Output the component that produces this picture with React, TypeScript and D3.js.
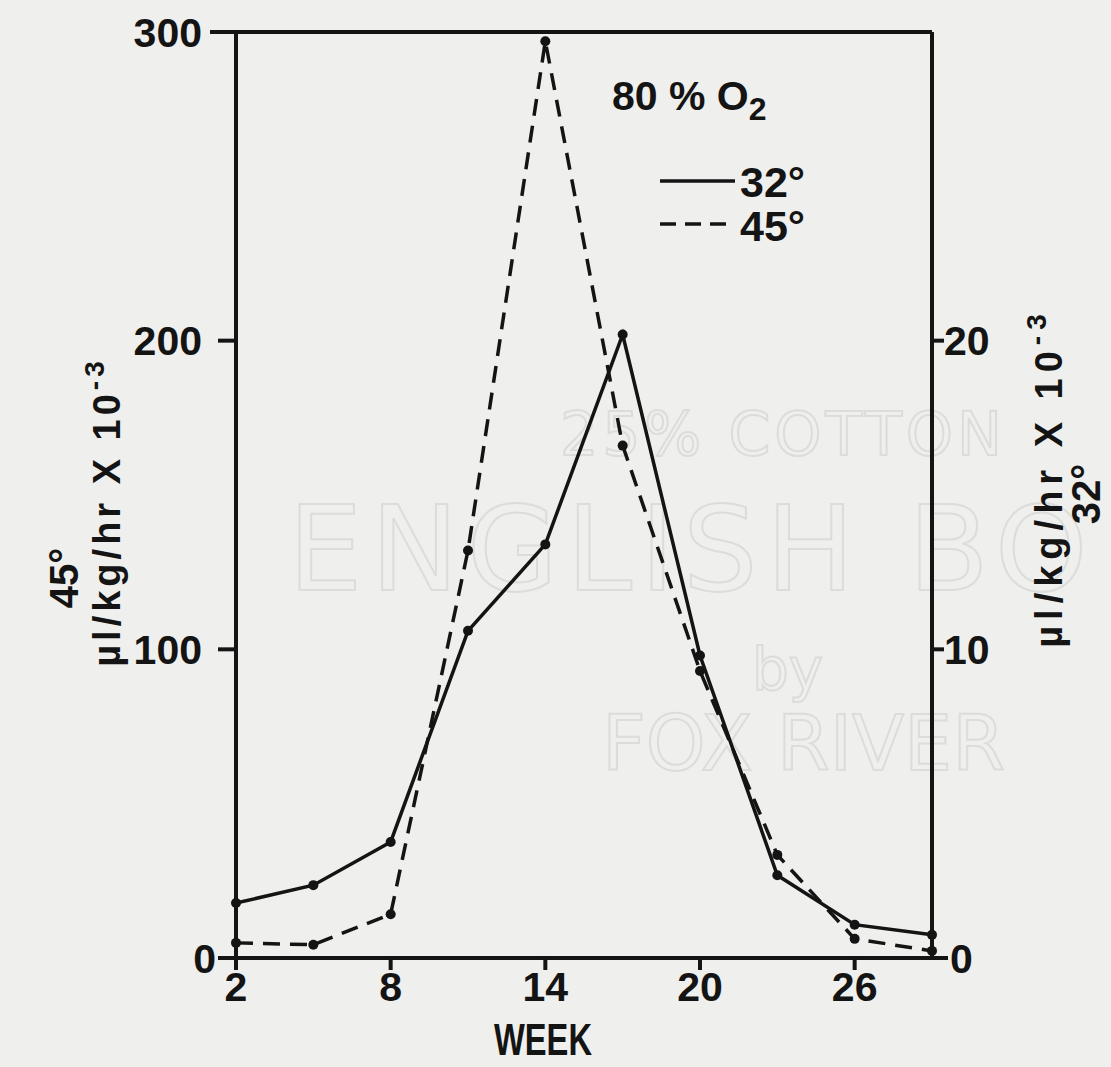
import React from 'react';
import {scaleLinear, line} from 'd3';

const weeks=[2,5,8,11,14,17,20,23,26,29];
// 45° series, left axis (µl/kg/hr x 10^-3)
const warm=[4.9,4.3,14.2,132,297,166,93,33.4,6.2,2.3];
// 32° series, right axis
const cold=[1.78,2.36,3.76,10.6,13.4,20.2,9.8,2.68,1.08,0.75];

const xTicks=[2,8,14,20,26];
const leftTicks=[0,100,200,300];
const rightTicks=[0,10,20];

const font="Liberation Sans, Arial, sans-serif";
const ink="#141414";

export default function App(){
  const width=1111, height=1067;
  const x0=236, x1=932, yTop=32, yBot=958;

  const xScale=scaleLinear().domain([2,29]).range([x0,x1]);
  const yLeft=scaleLinear().domain([0,300]).range([yBot,yTop]);
  const yRight=scaleLinear().domain([0,30]).range([yBot,yTop]);

  const warmPts=weeks.map((w,i)=>[xScale(w),yLeft(warm[i])] as [number,number]);
  const coldPts=weeks.map((w,i)=>[xScale(w),yRight(cold[i])] as [number,number]);
  const path=line();

  const wm={fill:"none",stroke:"#dcdcdb",strokeWidth:2,fontFamily:"DejaVu Sans, sans-serif"};

  return (
    <svg width={width} height={height} style={{display:"block",position:"absolute",left:0,top:0,background:"#efefed"}}>
      {/* faint paper watermark */}
      <g style={wm as any}>
        <text x={560} y={455} fontSize={60} letterSpacing={4}>25% COTTON</text>
        <text x={288} y={590} fontSize={118} letterSpacing={8}>ENGLISH BO</text>
        <text x={752} y={690} fontSize={58}>by</text>
        <text x={602} y={770} fontSize={76}>FOX RIVER</text>
      </g>

      {/* frame */}
      <g stroke={ink} strokeWidth={4} fill="none">
        <line x1={x0} x2={x0} y1={yTop} y2={yBot}/>
        <line x1={x1} x2={x1} y1={yTop} y2={yBot}/>
        <line x1={210} x2={x1} y1={yTop} y2={yTop}/>
        <line x1={218} x2={948} y1={yBot} y2={yBot}/>
        {leftTicks.slice(1,3).map(t=>(
          <line key={t} x1={x0-18} x2={x0} y1={yLeft(t)} y2={yLeft(t)}/>
        ))}
        {rightTicks.slice(1).map(t=>(
          <line key={t} x1={x1} x2={x1+12} y1={yRight(t)} y2={yRight(t)}/>
        ))}
        {xTicks.map(t=>(
          <line key={t} x1={xScale(t)} x2={xScale(t)} y1={yBot} y2={yBot+12}/>
        ))}
      </g>

      {/* tick labels */}
      <g fontFamily={font} fontWeight="bold" fontSize={41} fill={ink}>
        {leftTicks.map(t=>(
          <text key={t} x={t===0?216:202} y={yLeft(t)} dy="0.36em" textAnchor="end">{t}</text>
        ))}
        {rightTicks.map(t=>(
          <text key={t} x={t===0?950:944} y={yRight(t)} dy="0.36em" textAnchor="start">{t}</text>
        ))}
        {xTicks.map(t=>(
          <text key={t} x={xScale(t)} y={1001} textAnchor="middle">{t}</text>
        ))}
        <text x={543} y={1055} textAnchor="middle" fontSize={44} textLength={98} lengthAdjust="spacingAndGlyphs">WEEK</text>
      </g>

      {/* axis titles */}
      <g fontFamily={font} fontWeight="bold" fill={ink}>
        <text transform="translate(78,578) rotate(-90)" textAnchor="middle" fontSize={40}>45°</text>
        <text transform="translate(120,512) rotate(-90)" textAnchor="middle" fontSize={38} letterSpacing={4}>
          µl/kg/hr X 10<tspan dy="-16" fontSize={28}>-3</tspan>
        </text>
        <text transform="translate(1062,478) rotate(-90)" textAnchor="middle" fontSize={38} letterSpacing={6}>
          µl/kg/hr X 10<tspan dy="-16" fontSize={28}>-3</tspan>
        </text>
        <text transform="translate(1100,494) rotate(-90)" textAnchor="middle" fontSize={40}>32°</text>
      </g>

      {/* legend */}
      <g fontFamily={font} fontWeight="bold" fill={ink}>
        <text x={612} y={110} fontSize={41}>80 % O<tspan dy="10" fontSize={32}>2</tspan></text>
        <text x={740} y={197} fontSize={43}>32°</text>
        <text x={740} y={241} fontSize={43}>45°</text>
      </g>
      <line x1={660} x2={735} y1={181} y2={181} stroke={ink} strokeWidth={3.5}/>
      <line x1={660} x2={735} y1={224} y2={224} stroke={ink} strokeWidth={3.5} strokeDasharray="16 9"/>

      {/* series */}
      <path d={path(coldPts)!} fill="none" stroke={ink} strokeWidth={3.5}/>
      <path d={path(warmPts)!} fill="none" stroke={ink} strokeWidth={3.5} strokeDasharray="17 10"/>
      {coldPts.map((p,i)=><circle key={'c'+i} cx={p[0]} cy={p[1]} r={5} fill={ink}/>)}
      {warmPts.map((p,i)=><circle key={'w'+i} cx={p[0]} cy={p[1]} r={5} fill={ink}/>)}
    </svg>
  );
}
